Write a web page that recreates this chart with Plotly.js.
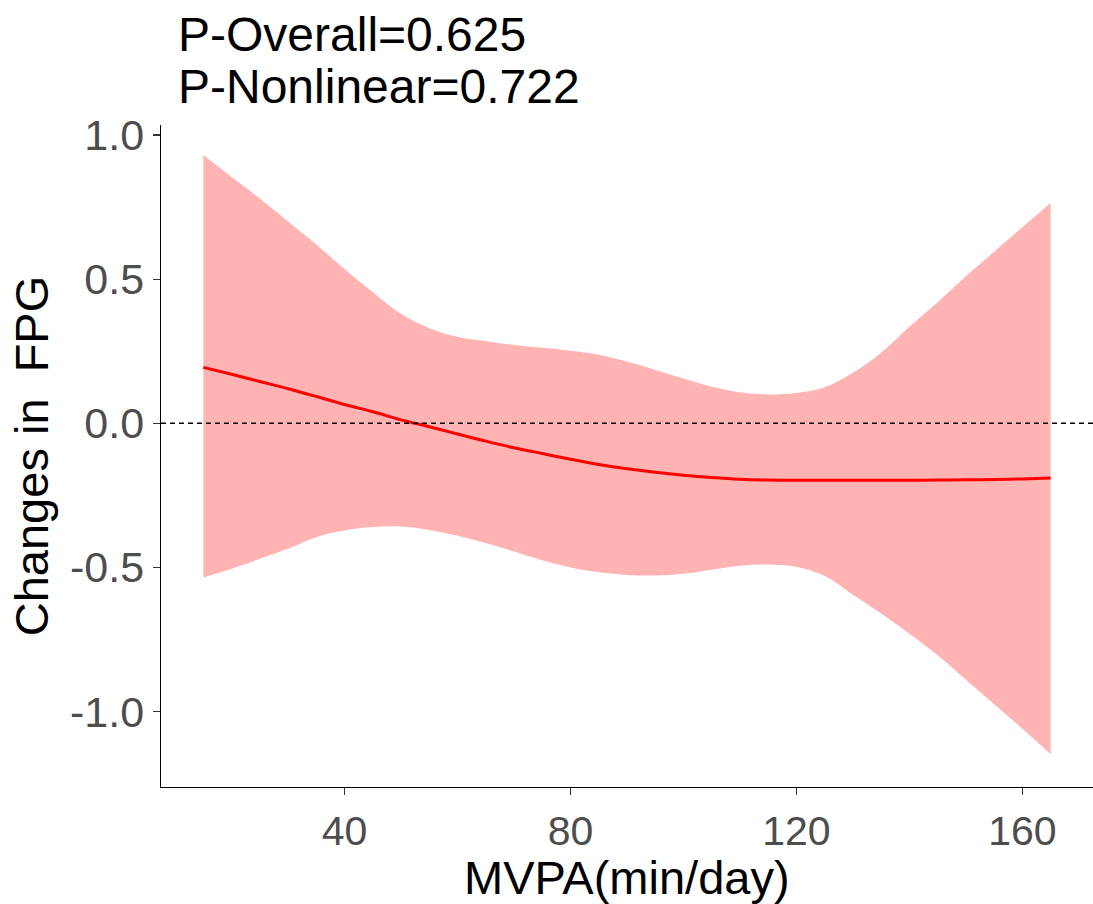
<!DOCTYPE html>
<html>
<head>
<meta charset="utf-8">
<script src="https://cdn.plot.ly/plotly-3.0.1.min.js"></script>
<style>html,body{margin:0;padding:0;background:#fff;}#chart{width:1093px;height:904px;}</style>
</head>
<body>
<div id="chart"></div>
<script>
// MVPA (min/day)
const mvpa = [15,20,25,30,35,40,45,50,55,60,65,70,75,80,85,90,95,100,105,110,115,120,125,130,135,140,145,150,155,160,165];
// estimated change in FPG
const estimate = [0.194,0.17,0.145,0.12,0.093,0.065,0.04,0.012,-0.012,-0.037,-0.062,-0.085,-0.105,-0.125,-0.143,-0.158,-0.17,-0.18,-0.188,-0.194,-0.197,-0.198,-0.198,-0.198,-0.198,-0.198,-0.197,-0.196,-0.195,-0.193,-0.19];
// upper 95% CI
const upper = [0.931,0.855,0.78,0.70,0.62,0.535,0.455,0.38,0.33,0.30,0.285,0.272,0.262,0.252,0.238,0.214,0.185,0.155,0.127,0.108,0.10,0.105,0.125,0.175,0.245,0.335,0.42,0.51,0.595,0.68,0.764];
// lower 95% CI
const lower = [-0.535,-0.505,-0.47,-0.435,-0.395,-0.372,-0.36,-0.358,-0.37,-0.39,-0.415,-0.445,-0.475,-0.50,-0.517,-0.526,-0.528,-0.522,-0.508,-0.494,-0.49,-0.498,-0.53,-0.595,-0.66,-0.73,-0.805,-0.89,-0.975,-1.06,-1.148];
const xTicks = [40,80,120,160];
const xTickText = ['40','80','120','160'];
const yTicks = [-1,-0.5,0,0.5,1];
const yTickText = ['-1.0','-0.5','0.0','0.5','1.0'];
const titleLines = ['P-Overall=0.625','P-Nonlinear=0.722'];
const xTitle = 'MVPA(min/day)';
const yTitle = 'Changes in &nbsp;FPG';

const FONT = 'Liberation Sans, Arial, sans-serif';

const traces = [
  {x: mvpa, y: lower, mode: 'lines', line: {width: 0, color: 'rgba(0,0,0,0)', shape: 'spline'}, hoverinfo: 'skip', showlegend: false},
  {x: mvpa, y: upper, mode: 'lines', fill: 'tonexty', fillcolor: '#FFB3B3', line: {width: 0, color: 'rgba(0,0,0,0)', shape: 'spline'}, hoverinfo: 'skip', showlegend: false},
  {x: mvpa, y: estimate, mode: 'lines', line: {width: 3, color: '#FF0000', shape: 'spline'}, showlegend: false}
];

const layout = {
  width: 1093, height: 904,
  margin: {l: 161, r: 0, t: 125, b: 117},
  paper_bgcolor: '#fff', plot_bgcolor: '#fff',
  showlegend: false,
  xaxis: {
    range: [7.5, 172.5], tickvals: xTicks, ticktext: xTickText,
    showline: true, linecolor: '#000', linewidth: 1.3, mirror: false,
    ticks: 'outside', ticklen: 7, tickwidth: 1.3, tickcolor: '#333',
    showgrid: false, zeroline: false, automargin: false,
    tickfont: {family: FONT, size: 41, color: '#4D4D4D'}
  },
  yaxis: {
    range: [-1.262, 1.035], tickvals: yTicks, ticktext: yTickText,
    showline: true, linecolor: '#000', linewidth: 1.3, mirror: false,
    ticks: 'outside', ticklen: 7, tickwidth: 1.3, tickcolor: '#333',
    showgrid: false, zeroline: false, automargin: false,
    tickfont: {family: FONT, size: 43, color: '#4D4D4D'},
    title: {text: yTitle, font: {family: FONT, size: 47, color: '#000'}, standoff: 6}
  },
  shapes: [
    {type: 'line', xref: 'paper', x0: 0, x1: 1, yref: 'y', y0: 0, y1: 0, line: {color: '#000', width: 1.5, dash: '5px,4px'}}
  ],
  annotations: [
    {text: titleLines[0], xref: 'paper', yref: 'paper', x: 0.0164, y: 1 + (125 - 35) / 662, xanchor: 'left', yanchor: 'middle', showarrow: false, font: {family: FONT, size: 48, color: '#000'}},
    {text: titleLines[1], xref: 'paper', yref: 'paper', x: 0.0164, y: 1 + (125 - 87) / 662, xanchor: 'left', yanchor: 'middle', showarrow: false, font: {family: FONT, size: 48, color: '#000'}},
    {text: xTitle, xref: 'paper', yref: 'paper', x: (627 - 161) / 932, y: (787 - 877) / 662, xanchor: 'center', yanchor: 'middle', showarrow: false, font: {family: FONT, size: 47, color: '#000'}}
  ]
};

Plotly.newPlot('chart', traces, layout, {displayModeBar: false, staticPlot: true});
</script>
</body>
</html>
